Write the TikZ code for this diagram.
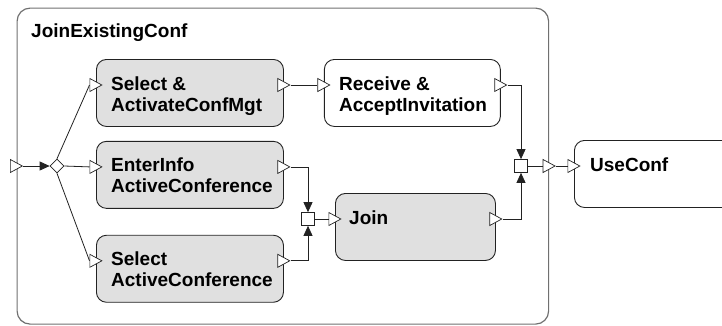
\documentclass[tikz,border=0pt]{standalone}
\usepackage{fontspec}
\setsansfont{Liberation Sans}
\usepackage{tikz}
\usetikzlibrary{arrows.meta,positioning,calc,shapes.geometric}
\definecolor{ink}{HTML}{222222}
\definecolor{framegray}{HTML}{707070}
\definecolor{taskfill}{HTML}{E0E0E0}
\tikzset{
  >={Triangle[length=10pt,width=9pt]},
  wire/.style={draw=ink,line width=.8pt},
  flow/.style={->,draw=ink,line width=.8pt},
  frame/.style={draw=framegray,line width=1.2pt,rounded corners=13pt,anchor=north west,
                minimum width=531.5pt,minimum height=316pt,inner sep=0pt},
  task/.style={draw=ink,fill=taskfill,rounded corners=10pt,line width=.9pt,anchor=north west,
               minimum width=187pt,minimum height=67pt,inner sep=0pt},
  whitetask/.style={task,fill=white},
  tasktext/.style={font=\sffamily\bfseries\fontsize{19}{21}\selectfont,align=left,
                   anchor=base west,inner sep=0pt},
  port/.style={isosceles triangle,isosceles triangle stretches,shape border rotate=0,
               minimum width=13pt,minimum height=12pt,inner sep=0pt,draw=ink,fill=white,
               line width=.7pt,anchor=lower side},
  fork/.style={diamond,draw=ink,fill=white,minimum size=14pt,inner sep=0pt,line width=.7pt},
  merge/.style={rectangle,draw=ink,fill=white,minimum size=13pt,inner sep=0pt,line width=.7pt},
}
\begin{document}
\begin{tikzpicture}[x=1pt,y=-1pt]
  \clip (0,0) rectangle (722,325);
  \node[frame] (jec) at (16.5,7.5) {};
  \node[tasktext] (jecT) at ($(jec.north west)+(14.5,29.5)$) {JoinExistingConf};
  \node[task] (sel) at (96,59) {};
  \node[whitetask,minimum width=176pt,right=40pt of sel] (recv) {};
  \node[task,below=14pt of sel] (enter) {};
  \node[task,below=26pt of enter] (selac) {};
  \node[task,minimum width=160pt] (join) at (335,193) {};
  \node[whitetask,minimum width=200pt] (use) at (574,140) {};
  \node[tasktext] (selT) at ($(sel.north west)+(15,52)$) {Select \&\\ActivateConfMgt};
  \node[tasktext] (recvT) at ($(recv.north west)+(15,52)$) {Receive \&\\AcceptInvitation};
  \node[tasktext] (enterT) at ($(enter.north west)+(15,52)$) {EnterInfo\\ActiveConference};
  \node[tasktext] (selacT) at ($(selac.north west)+(15,52)$) {Select\\ActiveConference};
  \node[tasktext] (joinT) at ($(join.north west)+(14,31)$) {Join};
  \node[tasktext] (useT) at ($(use.north west)+(16,31)$) {UseConf};
  \node[port] (pin) at (10,166) {};
  \node[fork] (fk) at (57,166) {};
  \node[port] (selIn) at ($(sel.north west)+(-6.5,26)$) {};
  \node[port] (selOut) at ($(sel.north east)+(-6.5,26)$) {};
  \node[port] (recvIn) at ($(recv.north west)+(-6.5,26)$) {};
  \node[port] (recvOut) at ($(recv.north east)+(-6.5,26)$) {};
  \node[port] (enterIn) at ($(enter.north west)+(-6.5,26)$) {};
  \node[port] (enterOut) at ($(enter.north east)+(-6.5,26)$) {};
  \node[port] (selacIn) at ($(selac.north west)+(-6.5,26)$) {};
  \node[port] (selacOut) at ($(selac.north east)+(-6.5,26)$) {};
  \node[port] (joinIn) at ($(join.north west)+(-6.5,26)$) {};
  \node[port] (joinOut) at ($(join.north east)+(-6.5,26)$) {};
  \node[port] (useIn) at ($(use.north west)+(-6.5,26)$) {};
  \node[merge] (m1) at (521,166) {};
  \node[merge] (m2) at (308,219) {};
  \node[port] (pout) at ($(jec.east |- m1)+(-6.5,0)$) {};
  \draw[flow] (pin.apex) -- (fk.west);
  \draw[wire] (fk.north) -- (selIn.lower side);
  \draw[wire] (fk.east) -- (enterIn.lower side);
  \draw[wire] (fk.south) -- (selacIn.lower side);
  \draw[wire] (selOut.apex) -- (recvIn.lower side);
  \draw[flow] (recvOut.apex) -| (m1.north);
  \draw[flow] (joinOut.apex) -| (m1.south);
  \draw[wire] (m1.east) -- (pout.lower side);
  \draw[wire] (pout.apex) -- (useIn.lower side);
  \draw[flow] (enterOut.apex) -| (m2.north);
  \draw[flow] (selacOut.apex) -| (m2.south);
  \draw[wire] (m2.east) -- (joinIn.lower side);
\end{tikzpicture}
\end{document}
